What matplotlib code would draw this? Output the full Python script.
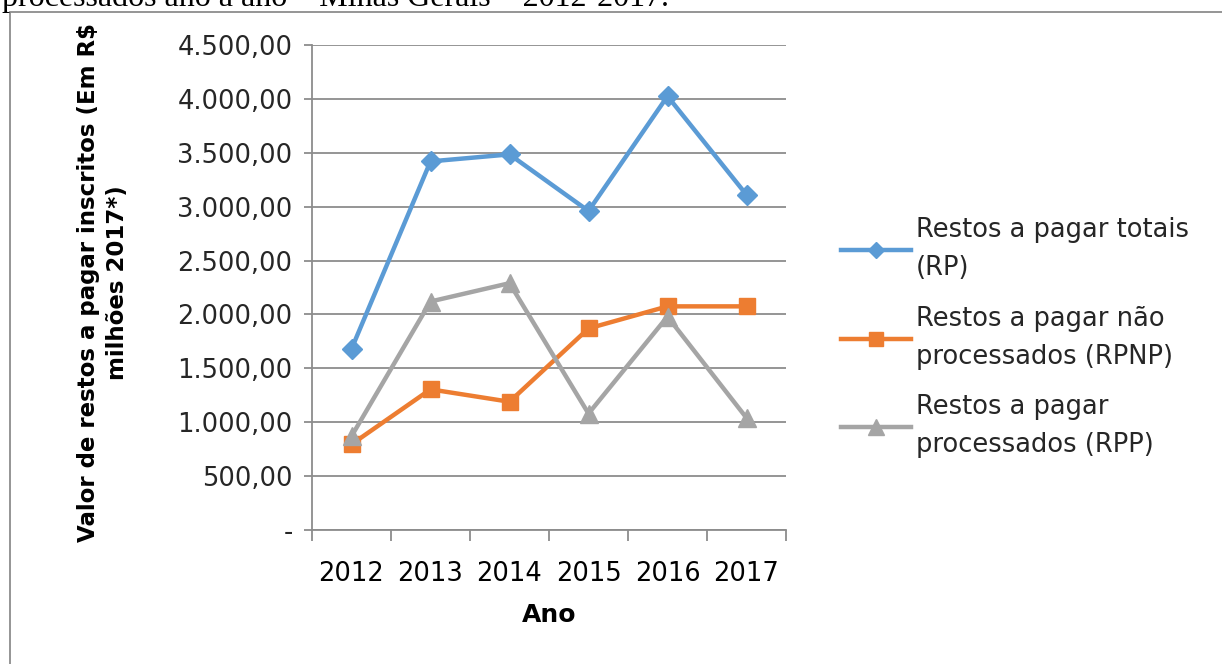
import numpy as np
import matplotlib
matplotlib.use("Agg")
import matplotlib.pyplot as plt
from matplotlib.patches import Rectangle
from matplotlib.ticker import FixedLocator, FuncFormatter

anos = ["2012", "2013", "2014", "2015", "2016", "2017"]
rp_totais = [1680, 3420, 3485, 2960, 4025, 3110]
rp_nao_proc = [795, 1305, 1190, 1870, 2075, 2075]
rp_proc = [870, 2120, 2290, 1080, 1980, 1040]

rotulos = ["Restos a pagar totais\n(RP)",
           "Restos a pagar não\nprocessados (RPNP)",
           "Restos a pagar\nprocessados (RPP)"]
cores = ["#5B9BD5", "#ED7D31", "#A5A5A5"]

def fmt_br(v, pos):
    if v == 0:
        return "-"
    s = "{:,.2f}".format(v)
    return s.replace(",", "X").replace(".", ",").replace("X", ".")

fig = plt.figure(figsize=(12.22, 6.64), dpi=100)

# moldura da figura e legenda cortada no topo
fig.patches.append(Rectangle((10/1222, -0.01), 1.0, 1 - 12/664 + 0.01, transform=fig.transFigure,
                             fill=False, edgecolor="#8c8c8c", linewidth=1.3))
fig.text(2/1222, 1 - 6/664, "processados ano a ano – Minas Gerais – 2012-2017.",
         family="Liberation Serif", fontsize=23, va="baseline", ha="left")

ax = fig.add_axes([312/1222, 1 - 530/664, (786 - 312)/1222, (530 - 45)/664])
x = np.arange(len(anos))

ax.plot(x, rp_totais, color=cores[0], lw=3.2, marker="D", ms=10, label=rotulos[0])
ax.plot(x, rp_nao_proc, color=cores[1], lw=3.2, marker="s", ms=12, label=rotulos[1])
ax.plot(x, rp_proc, color=cores[2], lw=3.2, marker="^", ms=13, label=rotulos[2])

ax.set_xlim(-0.5, len(anos) - 0.5)
ax.set_ylim(0, 4500)
ax.yaxis.set_major_locator(FixedLocator(np.arange(0, 4501, 500)))
ax.yaxis.set_major_formatter(FuncFormatter(fmt_br))
ax.grid(axis="y", color="#8c8c8c", lw=1.3)
ax.set_axisbelow(True)

ax.set_xticks(x)
ax.set_xticklabels(anos)
ax.set_xticks(np.arange(-0.5, len(anos)), minor=True)
ax.tick_params(axis="x", which="major", length=0, pad=22, labelsize=18.5)
ax.tick_params(axis="x", which="minor", length=8, width=1.3, color="#8c8c8c")
ax.tick_params(axis="y", length=6, width=1.3, color="#8c8c8c", labelsize=18.5, pad=8, labelcolor="#262626")
for sp in ["top", "right"]:
    ax.spines[sp].set_visible(False)
for sp in ["left", "bottom"]:
    ax.spines[sp].set_color("#8c8c8c")
    ax.spines[sp].set_linewidth(1.3)

ax.set_xlabel("Ano", fontsize=18, fontweight="bold", labelpad=12)
fig.text(103/1222, 1 - 283/664, "Valor de restos a pagar inscritos (Em R$\nmilhões 2017*)",
         rotation=90, ha="center", va="center", multialignment="center",
         fontsize=16.5, fontweight="bold", linespacing=1.35)

leg = fig.legend(loc="upper left", bbox_to_anchor=(818/1222, 1 - 194/664), frameon=False,
                 fontsize=18.5, handlelength=2.7, handletextpad=0.2, labelspacing=0.95,
                 labelcolor="#262626", markerscale=0.85)
for t in leg.get_texts():
    t.set_linespacing(1.6)

fig.savefig("out.png", dpi=100)
